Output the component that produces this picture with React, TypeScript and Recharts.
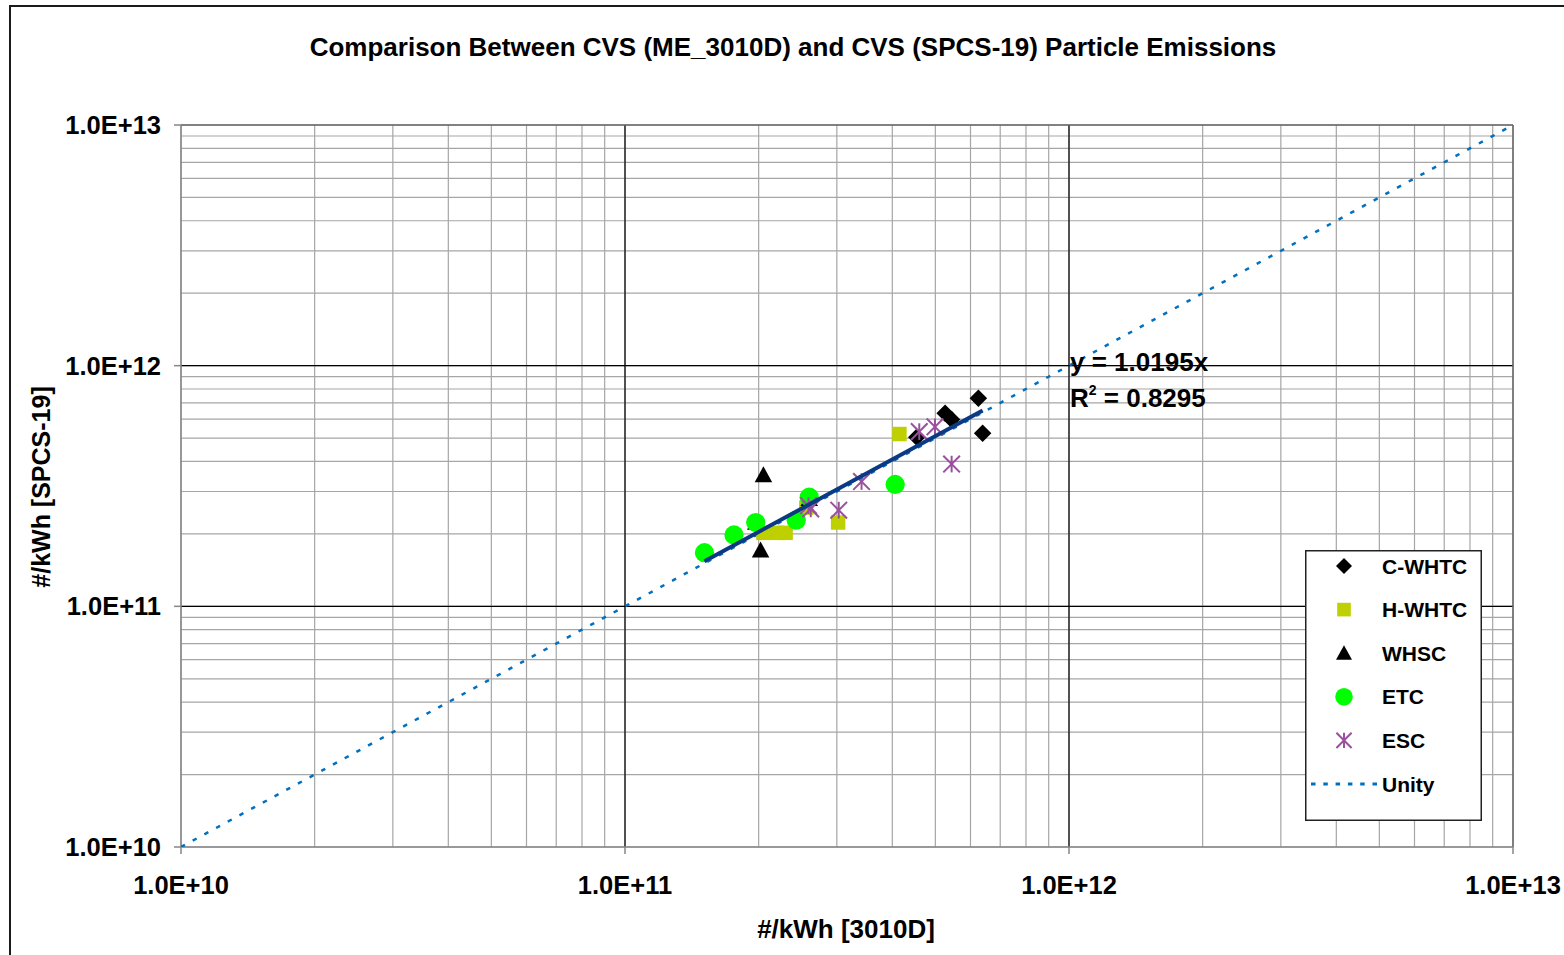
import React from 'react';
import { ScatterChart, Scatter, XAxis, YAxis, CartesianGrid, ReferenceLine } from 'recharts';

// Particle numbers, #/kWh: x = ME_3010D, y = SPCS-19
const cWhtc = [
  { x: 6.25e11, y: 7.32e11 },
  { x: 5.26e11, y: 6.34e11 },
  { x: 5.44e11, y: 5.98e11 },
  { x: 6.39e11, y: 5.24e11 },
  { x: 4.54e11, y: 5.04e11 },
];
const hWhtc = [
  { x: 4.15e11, y: 5.2e11 },
  { x: 3.02e11, y: 2.23e11 },
  { x: 2.3e11, y: 2.02e11 },
  { x: 2.2e11, y: 2.02e11 },
  { x: 2.05e11, y: 2.02e11 },
  { x: 2.56e11, y: 2.57e11 },
];
const whsc = [
  { x: 2.05e11, y: 3.51e11 },
  { x: 2.02e11, y: 1.71e11 },
  { x: 2.6e11, y: 2.8e11 },
  { x: 1.97e11, y: 2.23e11 },
];
const etc = [
  { x: 1.51e11, y: 1.67e11 },
  { x: 1.76e11, y: 1.98e11 },
  { x: 1.97e11, y: 2.23e11 },
  { x: 2.43e11, y: 2.28e11 },
  { x: 2.6e11, y: 2.84e11 },
  { x: 4.06e11, y: 3.21e11 },
];
const esc = [
  { x: 4.6e11, y: 5.32e11 },
  { x: 4.99e11, y: 5.57e11 },
  { x: 5.44e11, y: 3.9e11 },
  { x: 3.41e11, y: 3.3e11 },
  { x: 3.03e11, y: 2.51e11 },
  { x: 2.62e11, y: 2.54e11 },
  { x: 2.59e11, y: 2.62e11 },
];
const unity = [
  { x: 1e10, y: 1e10 },
  { x: 1e13, y: 1e13 },
];

// linear fit through the origin
const trendSlope = 1.0195;
const trendR2 = 0.8295;

const decades = [1e10, 1e11, 1e12, 1e13];
const logTicks = decades.flatMap((d, i) =>
  i < decades.length - 1 ? [2, 3, 4, 5, 6, 7, 8, 9].map((m) => m * d).concat(d) : [d]
).sort((a, b) => a - b);

const FONT = "'Liberation Sans', Arial, Helvetica, sans-serif";
const AXIS_GRAY = '#868686';

type Kind = 'diamond' | 'square' | 'triangle' | 'circle' | 'asterisk';

const series: { name: string; data: { x: number; y: number }[]; kind: Kind; color: string }[] = [
  { name: 'C-WHTC', data: cWhtc, kind: 'diamond', color: '#000000' },
  { name: 'H-WHTC', data: hWhtc, kind: 'square', color: '#BED000' },
  { name: 'WHSC', data: whsc, kind: 'triangle', color: '#000000' },
  { name: 'ETC', data: etc, kind: 'circle', color: '#00FF00' },
  { name: 'ESC', data: esc, kind: 'asterisk', color: '#9B4F9F' },
];

const allX = series.flatMap((s) => s.data.map((p) => p.x));
const trendX = [Math.min(...allX), Math.max(...allX)];
const trend = trendX.map((x) => ({ x, y: trendSlope * x }));

function Marker({ kind, cx, cy, s, color }: { kind: Kind; cx: number; cy: number; s: number; color: string }) {
  const h = s / 2;
  switch (kind) {
    case 'diamond':
      return <polygon points={`${cx},${cy - h} ${cx + h},${cy} ${cx},${cy + h} ${cx - h},${cy}`} fill={color} />;
    case 'square':
      return <rect x={cx - h * 0.85} y={cy - h * 0.85} width={s * 0.85} height={s * 0.85} fill={color} />;
    case 'triangle':
      return <polygon points={`${cx},${cy - h} ${cx + h},${cy + h * 0.82} ${cx - h},${cy + h * 0.82}`} fill={color} />;
    case 'circle':
      return <circle cx={cx} cy={cy} r={h * 1.1} fill={color} />;
    case 'asterisk': {
      const a = h * 0.95;
      return (
        <g stroke={color} strokeWidth={2}>
          <line x1={cx} y1={cy - a} x2={cx} y2={cy + a} />
          <line x1={cx - a} y1={cy - a} x2={cx + a} y2={cy + a} />
          <line x1={cx - a} y1={cy + a} x2={cx + a} y2={cy - a} />
        </g>
      );
    }
  }
}

const isDecade = (v: number) => Math.abs(Math.log10(v) - Math.round(Math.log10(v))) < 1e-9;
const sci = (v: number) => {
  const e = Math.round(Math.log10(v));
  return `${(v / 10 ** e).toFixed(1)}E+${e}`;
};

const labelStyle = { fontFamily: FONT, fontWeight: 700, fontSize: 25.5, fill: '#000' };

const XTick = (props: any) => {
  const { x, y, payload } = props;
  if (!isDecade(payload.value)) return <g />;
  return (
    <g>
      <line x1={x} y1={y} x2={x} y2={y + 7} stroke={AXIS_GRAY} strokeWidth={1.5} />
      <text x={x} y={y + 47} textAnchor="middle" style={labelStyle}>
        {sci(payload.value)}
      </text>
    </g>
  );
};

const YTick = (props: any) => {
  const { x, y, payload } = props;
  if (!isDecade(payload.value)) return <g />;
  return (
    <g>
      <line x1={x - 7} y1={y} x2={x} y2={y} stroke={AXIS_GRAY} strokeWidth={1.5} />
      <text x={x - 20} y={y + 9} textAnchor="end" style={labelStyle}>
        {sci(payload.value)}
      </text>
    </g>
  );
};

// legend box; the last row (fit line) runs past the frame and is clipped
function Legend() {
  const rows = [
    ...series.map((s) => ({ name: s.name, s })),
    { name: 'Unity', s: null },
    { name: 'SPCS-19', s: null },
  ];
  return (
    <svg width={177} height={271} style={{ position: 'absolute', left: 1305, top: 550 }}>
      <rect x={0.75} y={0.75} width={175.5} height={269.5} fill="#fff" stroke="#222" strokeWidth={1.5} />
      {rows.map((r, i) => {
        const cy = 16 + i * 43.6;
        return (
          <g key={r.name}>
            {r.s ? (
              <Marker kind={r.s.kind} cx={39} cy={cy} s={16} color={r.s.color} />
            ) : r.name === 'Unity' ? (
              <line x1={6} y1={cy} x2={72} y2={cy} stroke="#0070C0" strokeWidth={3} strokeDasharray="4.5 7.8" />
            ) : (
              <line x1={6} y1={cy} x2={72} y2={cy} stroke="#0B3A84" strokeWidth={4} />
            )}
            <text x={77} y={cy + 7.5} style={{ fontFamily: FONT, fontWeight: 700, fontSize: 21, fill: '#000' }}>
              {r.name}
            </text>
          </g>
        );
      })}
    </svg>
  );
}

const textBase: React.CSSProperties = {
  position: 'absolute',
  fontFamily: FONT,
  fontWeight: 700,
  color: '#000',
  whiteSpace: 'nowrap',
  lineHeight: 1,
};

export default function App() {
  return (
    <div style={{ position: 'fixed', left: 0, top: 0, width: 1564, height: 955, overflow: 'hidden', background: '#fff' }}>
      <div style={{ position: 'absolute', left: 9, top: 5, width: 1600, height: 1000, border: '2px solid #1a1a1a' }} />
      <div style={{ position: 'absolute', left: 0, top: 0 }}>
        <ScatterChart width={1564} height={955} margin={{ top: 125, right: 51, bottom: 68, left: 81 }}>
          <CartesianGrid stroke="#a6a6a6" strokeWidth={1.2} />
          <XAxis
            dataKey="x"
            type="number"
            scale="log"
            domain={[1e10, 1e13]}
            allowDataOverflow
            ticks={logTicks}
            interval={0}
            height={40}
            tickSize={0}
            tickMargin={0}
            tickLine={false}
            tick={XTick}
            axisLine={{ stroke: AXIS_GRAY, strokeWidth: 1.5 }}
          />
          <YAxis
            dataKey="y"
            type="number"
            scale="log"
            domain={[1e10, 1e13]}
            allowDataOverflow
            ticks={logTicks}
            interval={0}
            width={100}
            tickSize={0}
            tickMargin={0}
            tickLine={false}
            tick={YTick}
            axisLine={{ stroke: AXIS_GRAY, strokeWidth: 1.5 }}
          />
          {decades.slice(1, 3).map((d) => (
            <ReferenceLine key={`vx${d}`} x={d} stroke="#000" strokeWidth={1.2} />
          ))}
          {decades.slice(1, 3).map((d) => (
            <ReferenceLine key={`hy${d}`} y={d} stroke="#000" strokeWidth={1.2} />
          ))}
          <ReferenceLine x={1e13} stroke="#666" strokeWidth={1.5} />
          <ReferenceLine y={1e13} stroke="#666" strokeWidth={1.5} />
          <Scatter
            name="Unity"
            data={unity}
            line={{ stroke: '#0070C0', strokeWidth: 2.5, strokeDasharray: '4.5 8.8' }}
            shape={() => <g />}
            isAnimationActive={false}
          />
          {series.map((s) => (
            <Scatter
              key={s.name}
              name={s.name}
              data={s.data}
              isAnimationActive={false}
              shape={(p: any) => (
                <Marker kind={s.kind} cx={p.cx} cy={p.cy} s={s.kind === 'square' ? 17 : 17.5} color={s.color} />
              )}
            />
          ))}
          <Scatter
            name="SPCS-19"
            data={trend}
            line={{ stroke: '#0B3A84', strokeWidth: 4 }}
            shape={() => <g />}
            isAnimationActive={false}
          />
        </ScatterChart>
      </div>

      <div style={{ ...textBase, fontSize: 26, left: 793, top: 47, transform: 'translate(-50%, -50%)' }}>
        Comparison Between CVS (ME_3010D) and CVS (SPCS-19) Particle Emissions
      </div>
      <div style={{ ...textBase, fontSize: 26, left: 846, top: 929, transform: 'translate(-50%, -50%)' }}>
        #/kWh [3010D]
      </div>
      <div
        style={{
          ...textBase,
          fontSize: 25,
          left: 41,
          top: 487,
          transform: 'translate(-50%, -50%) rotate(-90deg)',
        }}
      >
        #/kWh [SPCS-19]
      </div>
      <div style={{ ...textBase, fontSize: 26, left: 1070, top: 349 }}>y = {trendSlope}x</div>
      <div style={{ ...textBase, fontSize: 26, left: 1070, top: 385 }}>
        R<sup style={{ fontSize: 14, verticalAlign: 'top', position: 'relative', top: -2 }}>2</sup> = {trendR2}
      </div>

      <Legend />
    </div>
  );
}
